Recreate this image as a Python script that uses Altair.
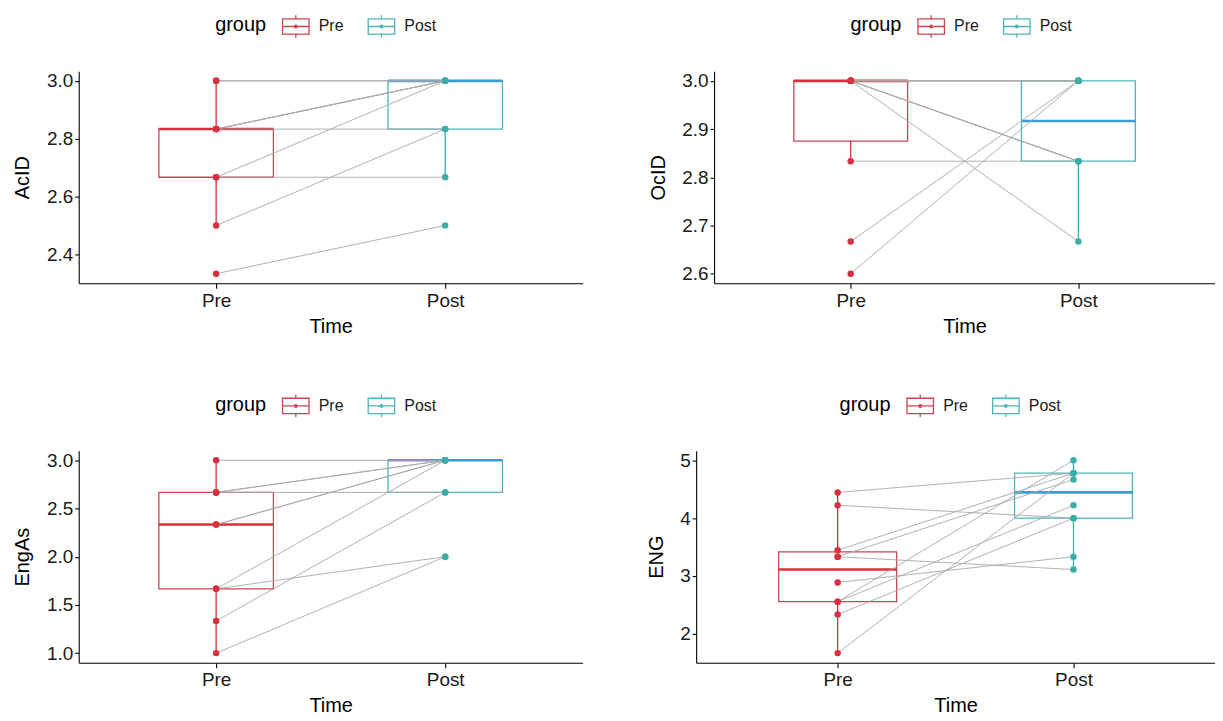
import altair as alt
import pandas as pd

times = ["Pre", "Post"]

acid_pre = [3.0, 3.0, 2.8333, 2.8333, 2.8333, 2.8333, 2.6667, 2.6667, 2.5, 2.3333]
acid_post = [3.0, 3.0, 3.0, 3.0, 3.0, 2.8333, 3.0, 2.6667, 2.8333, 2.5]
ocid_pre = [3.0, 3.0, 3.0, 3.0, 3.0, 3.0, 3.0, 2.8333, 2.6667, 2.6]
ocid_post = [3.0, 3.0, 3.0, 2.8333, 2.8333, 2.8333, 2.6667, 2.8333, 3.0, 3.0]
engas_pre = [3.0, 2.6667, 2.6667, 2.6667, 2.3333, 2.3333, 1.6667, 1.6667, 1.3333, 1.0]
engas_post = [3.0, 3.0, 3.0, 2.6667, 3.0, 3.0, 3.0, 2.0, 2.6667, 2.0]
eng_pre = [4.4444, 4.2222, 3.4444, 3.3333, 3.3333, 2.8889, 2.5556, 2.5556, 2.3333, 1.6667]
eng_post = [4.7778, 4.0, 4.7778, 4.6667, 3.1111, 3.3333, 5.0, 4.2222, 4.0, 4.7778]

acid_ticks = [2.4, 2.6, 2.8, 3.0]
ocid_ticks = [2.6, 2.7, 2.8, 2.9, 3.0]
engas_ticks = [1.0, 1.5, 2.0, 2.5, 3.0]
eng_ticks = [2, 3, 4, 5]

FONT = "Liberation Sans"
PRE_BOX = "#CC4450"
PRE_COL = "#D7303F"
POST_BOX = "#4CB5BB"
POST_PT = "#3AAEA6"
POST_MED = "#3C9BD4"
GLYPH = ("M-0.95,-0.55H0.95V0.55H-0.95Z M-0.95,0H0.95 M0,-0.55V-0.8 M0,0.55V0.8 "
         "M0.1,0A0.1,0.1 0 1,1 -0.1,0A0.1,0.1 0 1,1 0.1,0")
H = 213


def panel(pre, post, name, ticks, fmt, width, ext, legend_x):
    n = len(pre)
    df = pd.DataFrame({
        "id": list(range(n)) * 2,
        "time": ["Pre"] * n + ["Post"] * n,
        "t": [1] * n + [2] * n,
        "value": pre + post,
    })
    lo, hi = min(pre + post), max(pre + post)
    pad = 0.05 * (hi - lo)
    yscale = alt.Scale(domain=[lo - pad, hi + pad], nice=False, zero=False)
    xscale = alt.Scale(domain=[0.4, 2.6], nice=False, zero=False)
    xaxis = alt.Axis(values=[1, 2], labelExpr="datum.value == 1 ? 'Pre' : 'Post'",
                     title="Time", grid=False)
    yaxis = alt.Axis(values=ticks, format=fmt, title=name, grid=False,
                     minExtent=ext, maxExtent=ext)

    def X(f):
        return alt.X(f, type="quantitative", scale=xscale, axis=xaxis)

    def Y(f):
        return alt.Y(f, type="quantitative", scale=yscale, axis=yaxis)

    base = alt.Chart(df)
    stats = (
        base.transform_joinaggregate(q1="q1(value)", q3="q3(value)", med="median(value)",
                                     groupby=["time", "t"])
        .transform_calculate(lo="datum.q1 - 1.5 * (datum.q3 - datum.q1)",
                             hi="datum.q3 + 1.5 * (datum.q3 - datum.q1)")
        .transform_filter("datum.value >= datum.lo - 1e-9 && datum.value <= datum.hi + 1e-9")
        .transform_aggregate(wmin="min(value)", wmax="max(value)", q1="min(q1)",
                             q3="min(q3)", med="min(med)", groupby=["time", "t"])
        .transform_calculate(xl="datum.t - 0.25", xr="datum.t + 0.25")
    )
    cond_pt = alt.condition("datum.t == 1", alt.value(PRE_COL), alt.value(POST_PT))
    cond_med = alt.condition("datum.t == 1", alt.value(PRE_COL), alt.value(POST_MED))

    legend = alt.Legend(
        title="group", orient="none", legendX=legend_x, legendY=-60,
        direction="horizontal", titleOrient="left", titlePadding=14,
        titleFontSize=20, titleFont=FONT, titleFontWeight="normal", titleColor="black",
        titleBaseline="middle",
        labelFontSize=16, labelFont=FONT, labelColor="#1a1a1a", labelOffset=8,
        columnPadding=22, symbolType=GLYPH, symbolSize=784, symbolStrokeWidth=1.3,
        symbolFillColor="white",
    )
    box = stats.mark_bar(fill="white", strokeWidth=1.3).encode(
        x=X("xl:Q"), x2="xr:Q", y=Y("q1:Q"), y2="q3:Q",
        stroke=alt.Stroke("time:N", scale=alt.Scale(domain=times, range=[PRE_BOX, POST_BOX]),
                          legend=legend),
    )
    w_up = stats.mark_rule(strokeWidth=1.3).encode(
        x=X("t:Q"), y=Y("q3:Q"), y2="wmax:Q", color=cond_pt)
    w_dn = stats.mark_rule(strokeWidth=1.3).encode(
        x=X("t:Q"), y=Y("wmin:Q"), y2="q1:Q", color=cond_pt)
    med = stats.mark_rule(strokeWidth=2.6).encode(
        x=X("xl:Q"), x2="xr:Q", y=Y("med:Q"), color=cond_med)
    lines = base.mark_line(color="#A8A8A8", strokeWidth=0.9).encode(
        x=X("t:Q"), y=Y("value:Q"), detail="id:N")
    pts = base.mark_circle(size=42, opacity=1).encode(
        x=X("t:Q"), y=Y("value:Q"), color=cond_pt)
    return alt.layer(box, w_up, w_dn, med, lines, pts).properties(width=width, height=H)


p1 = panel(acid_pre, acid_post, "AcID", acid_ticks, ".1f", 506, 32, 137)
p2 = panel(ocid_pre, ocid_post, "OcID", ocid_ticks, ".1f", 503, 32, 137)
p3 = panel(engas_pre, engas_post, "EngAs", engas_ticks, ".1f", 506, 32, 137)
p4 = panel(eng_pre, eng_post, "ENG", eng_ticks, "d", 521, 16, 144)

row1 = alt.hconcat(p1, p2, spacing=66).resolve_scale(stroke="independent").resolve_legend(stroke="independent")
row2 = alt.hconcat(p3, p4, spacing=64).resolve_scale(stroke="independent").resolve_legend(stroke="independent")

chart = (
    alt.vconcat(row1, row2, spacing=55)
    .resolve_scale(stroke="independent")
    .resolve_legend(stroke="independent")
    .properties(padding={"left": 5, "top": 2, "right": 0, "bottom": 0}, background="white")
    .configure_axis(domainColor="black", tickColor="black", labelColor="#1a1a1a",
                    titleColor="black", labelFont=FONT, titleFont=FONT, labelFontSize=19,
                    titleFontSize=20, titleFontWeight="normal", grid=False, tickSize=5,
                    labelPadding=3, domainWidth=1.1, tickWidth=1.1)
    .configure_axisY(titlePadding=14, labelPadding=2, tickSize=4)
    .configure_axisX(titlePadding=6)
    .configure_view(stroke=None)
)

chart.save("out.html", embed_options={"renderer": "svg", "actions": False})
